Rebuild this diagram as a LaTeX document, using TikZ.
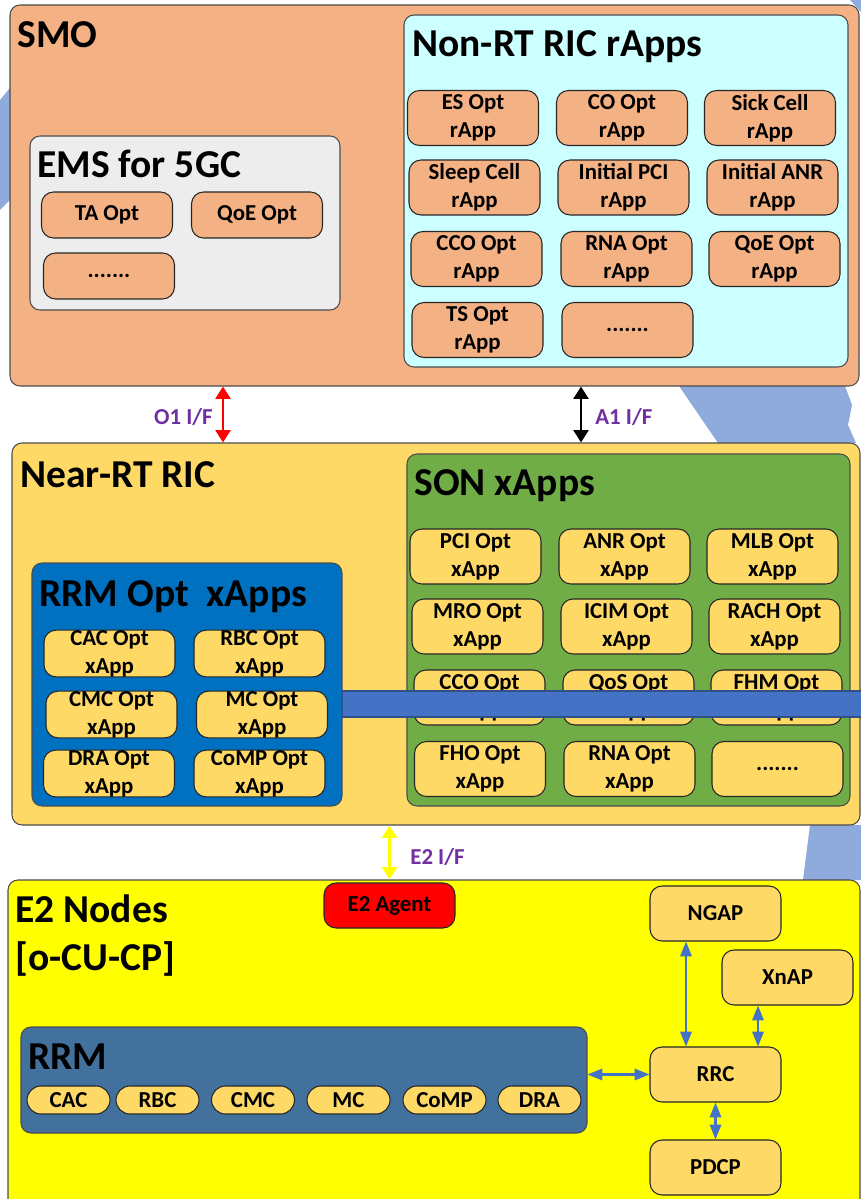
\documentclass[tikz,border=0pt]{standalone}
\usepackage{fontspec}
\setmainfont{Carlito}[BoldFont={Carlito Bold}]
\usepackage{tikz}
\usetikzlibrary{fit,calc,arrows.meta}

\definecolor{smoorange}{HTML}{F4B183}
\definecolor{ricaqua}{HTML}{CCFFFF}
\definecolor{emsgrey}{HTML}{EDEDED}
\definecolor{nearyellow}{HTML}{FFD966}
\definecolor{songreen}{HTML}{70AD47}
\definecolor{rrmblue}{HTML}{0070C0}
\definecolor{nodeyellow}{HTML}{FFFF00}
\definecolor{rrmsteel}{HTML}{41719C}
\definecolor{ifpurple}{HTML}{7030A0}
\definecolor{linkblue}{HTML}{4472C4}
\definecolor{globeblue}{HTML}{8FAADC}

\begin{document}
\begin{tikzpicture}[x=0.02cm,y=-0.02cm,
  font=\bfseries\fontsize{13}{16}\selectfont,
  panel/.style={draw=black!70, line width=0.6pt, rounded corners=0.2cm, inner sep=0pt},
  paneltitle/.style={anchor=base west, inner sep=0pt, font=\bfseries\fontsize{22.5}{26}\selectfont},
  rapp/.style={draw=black!85, line width=0.6pt, rounded corners=0.24cm, fill=smoorange,
    minimum width=2.62cm, minimum height=1.1cm, align=center, inner sep=0pt},
  xapp/.style={rapp, fill=nearyellow},
  rrmapp/.style={xapp, minimum height=0.9cm},
  pill/.style={draw=black!85, line width=0.6pt, rounded corners=0.28cm, fill=nearyellow,
    minimum width=1.66cm, minimum height=0.56cm, inner sep=0pt},
  iflabel/.style={text=ifpurple, inner sep=0pt},
  ifarrow/.style={{Triangle[width=8.5pt,length=7pt]}-{Triangle[width=8.5pt,length=7pt]}, line width=1.3pt},
  linkarrow/.style={{Triangle[width=6.5pt,length=8.5pt]}-{Triangle[width=6.5pt,length=8.5pt]}, line width=1.2pt, linkblue}]
  \useasboundingbox (0,0) rectangle (861,1199);

  % globe picture behind the panels
  \fill[globeblue] (0,100) -- (10,88) -- (10,200) -- (0,210) -- cycle;
  \fill[globeblue] (850,0) -- (861,0) -- (861,12) -- cycle;
  \fill[globeblue] (679,386) -- (845,386) -- (852,405) -- (848,425) -- (856,443) -- (718,443) -- cycle;
  \fill[globeblue] (810,825) -- (861,825) -- (861,880) -- (803,880) -- cycle;

  % SMO
  \node[panel, fill=smoorange, fit={(10,5) (859,386)}] (smo) {};
  \node[paneltitle] (smotitle) at (17,48) {SMO};

  \node[panel, fill=emsgrey, fit={(30,136) (340,310)}] (ems) {};
  \node[paneltitle] (emstitle) at (37,178) {EMS for 5GC};
  \node[rapp, minimum height=0.92cm] (taopt) at (107,215) {TA Opt};
  \node[rapp, minimum height=0.92cm] (qoeems) at (257,215) {QoE Opt};
  \node[rapp, minimum height=0.92cm] (emsmore) at (109,276) {.......};

  \node[panel, fill=ricaqua, fit={(404,15) (848,367)}] (nonrt) {};
  \node[paneltitle] (nonrttitle) at (412,57) {Non-RT RIC rApps};
  \node[rapp] (esopt) at (473,118) {ES Opt\\rApp};
  \node[rapp] (coopt) at (622,118) {CO Opt\\rApp};
  \node[rapp] (sickcell) at (770,118) {Sick Cell\\rApp};
  \node[rapp] (sleepcell) at (474.5,187.5) {Sleep Cell\\rApp};
  \node[rapp] (initpci) at (623.5,187.5) {Initial PCI\\rApp};
  \node[rapp] (initanr) at (772.5,187.5) {Initial ANR\\rApp};
  \node[rapp] (ccorapp) at (476.5,259) {CCO Opt\\rApp};
  \node[rapp] (narapp) at (626.5,259) {RNA Opt\\rApp};
  \node[rapp] (qoerapp) at (774.5,259) {QoE Opt\\rApp};
  \node[rapp] (tsopt) at (477.5,330) {TS Opt\\rApp};
  \node[rapp] (rappmore) at (627.5,330) {.......};

  % Near-RT RIC
  \node[panel, fill=nearyellow, fit={(12,443) (860,825)}] (nearrt) {};
  \node[paneltitle] (nearrttitle) at (20,487) {Near-RT RIC};

  \node[panel, fill=rrmblue, fit={(32,563) (342,806)}] (rrmopt) {};
  \node[paneltitle] (rrmopttitle) at (39,606) {RRM Opt\ \ xApps};
  \node[rrmapp] (cacopt) at (109.5,653.5) {CAC Opt\\xApp};
  \node[rrmapp] (rbcopt) at (259.5,653.5) {RBC Opt\\xApp};
  \node[rrmapp] (cmcopt) at (111.5,714.5) {CMC Opt\\xApp};
  \node[rrmapp] (mcopt) at (262,714.5) {MC Opt\\xApp};
  \node[rrmapp] (draopt) at (109,773.5) {DRA Opt\\xApp};
  \node[rrmapp] (compopt) at (259.5,773.5) {CoMP Opt\\xApp};

  \node[panel, fill=songreen, fit={(407,454) (850,806)}] (son) {};
  \node[paneltitle] (sontitle) at (414,495) {SON xApps};
  \node[xapp] (pciopt) at (475.5,556.5) {PCI Opt\\xApp};
  \node[xapp] (anropt) at (624.5,556.5) {ANR Opt\\xApp};
  \node[xapp] (mlbopt) at (772.5,556.5) {MLB Opt\\xApp};
  \node[xapp] (mroopt) at (477.5,626.5) {MRO Opt\\xApp};
  \node[xapp] (icimopt) at (626.5,626.5) {ICIM Opt\\xApp};
  \node[xapp] (rachopt) at (774.5,626.5) {RACH Opt\\xApp};
  \node[xapp] (ccoxapp) at (479.5,697.5) {CCO Opt\\xApp};
  \node[xapp] (qosopt) at (628.5,697.5) {QoS Opt\\xApp};
  \node[xapp] (fhmopt) at (776.5,697.5) {FHM Opt\\xApp};
  \node[xapp] (fhoopt) at (480,769) {FHO Opt\\xApp};
  \node[xapp] (rnaxapp) at (629.5,769) {RNA Opt\\xApp};
  \node[xapp] (xappmore) at (777.5,769) {.......};

  \fill[linkblue, draw=linkblue!70!black, line width=0.6pt] (342,691) rectangle (875,717);

  % E2 nodes
  \node[panel, fill=nodeyellow, fit={(8,880) (860,1215)}] (e2nodes) {};
  \node[paneltitle] (e2title) at (15,922) {E2 Nodes};
  \node[paneltitle] (cucptitle) at (15,970) {[o-CU-CP]};
  \node[rapp, fill=red, minimum height=0.9cm] (e2agent) at (389.5,905.5) {E2 Agent};

  \node[panel, fill=rrmsteel, fit={(21,1027) (587,1133)}] (rrm) {};
  \node[paneltitle] (rrmtitle) at (28,1069) {RRM};
  \node[pill] (cac) at (68.5,1100) {CAC};
  \node[pill] (rbc) at (157.5,1100) {RBC};
  \node[pill] (cmc) at (253,1100) {CMC};
  \node[pill] (mc) at (348.5,1100) {MC};
  \node[pill] (comp) at (444.5,1100) {CoMP};
  \node[pill] (dra) at (539.5,1100) {DRA};

  \node[xapp] (ngap) at (715.5,913.5) {NGAP};
  \node[xapp] (xnap) at (787.5,977.5) {XnAP};
  \node[xapp] (rrc) at (715.5,1074.5) {RRC};
  \node[xapp] (pdcp) at (715.5,1167.5) {PDCP};

  % interfaces
  \coordinate (o1x) at (223,0);
  \coordinate (a1x) at (581,0);
  \draw[ifarrow, red] (smo.south -| o1x) -- (nearrt.north -| o1x);
  \node[iflabel, anchor=east] (o1label) at (213,417) {O1 I/F};
  \draw[ifarrow, black] (smo.south -| a1x) -- (nearrt.north -| a1x);
  \node[iflabel, anchor=west] (a1label) at (595,417) {A1 I/F};
  \draw[ifarrow, nodeyellow] (nearrt.south -| e2agent.north) -- (e2nodes.north -| e2agent.north);
  \node[iflabel, anchor=west] (e2label) at (410,857) {E2 I/F};

  \coordinate (ngx) at (686,0);
  \coordinate (xnx) at (758,0);
  \draw[linkarrow] (ngap.south -| ngx) -- (rrc.north -| ngx);
  \draw[linkarrow] (xnap.south -| xnx) -- (rrc.north -| xnx);
  \draw[linkarrow] (rrc.south) -- (pdcp.north);
  \draw[linkarrow] (rrm.east |- rrc.west) -- (rrc.west);
\end{tikzpicture}
\end{document}
